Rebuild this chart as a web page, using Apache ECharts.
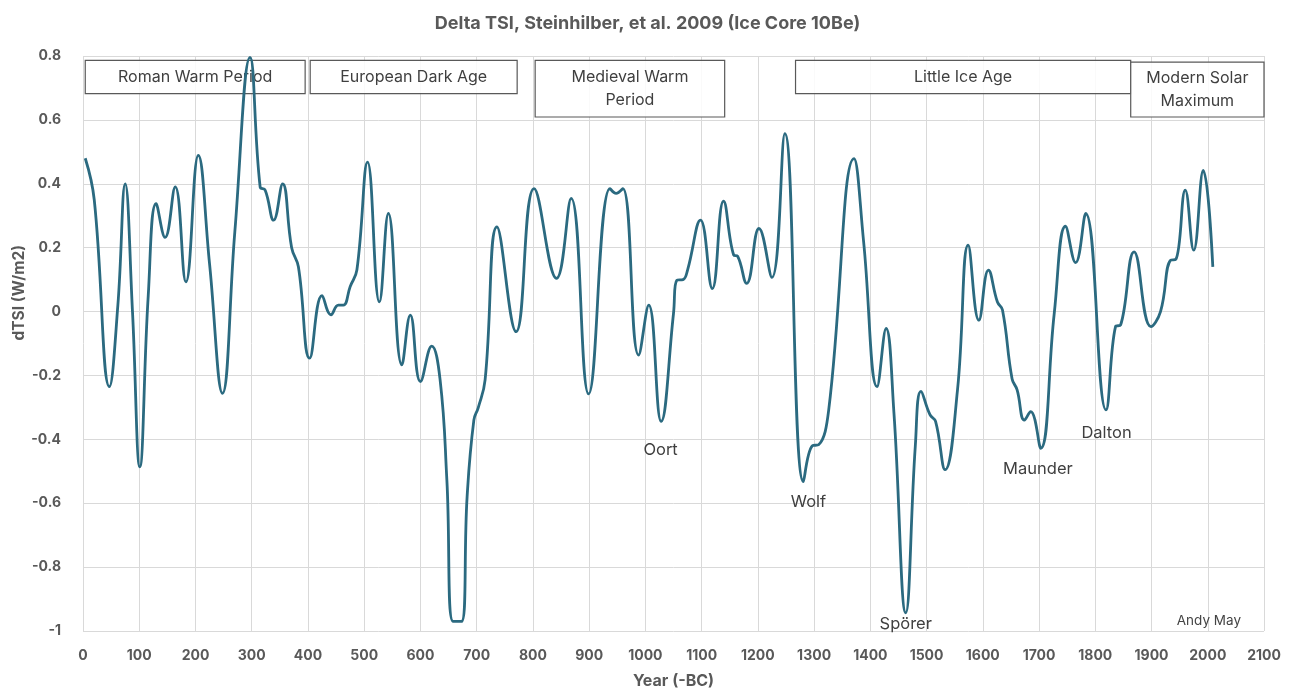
<!DOCTYPE html>
<html>
<head>
<meta charset="utf-8">
<script src="https://cdn.jsdelivr.net/npm/echarts@6/dist/echarts.min.js"></script>
<style>
html, body { margin: 0; padding: 0; background: #fff; }
#chart { width: 1295px; height: 689px; }
</style>
</head>
<body>
<div id="chart"></div>
<script>
// 年份与 dTSI 数值
var years = [4, 20, 47, 62, 75, 88, 101, 116, 130, 146, 164, 183, 205, 225, 248, 270, 297, 315, 324, 339, 355,
  371, 383, 403, 425, 441, 454, 463, 475, 487, 506, 527, 543, 567, 582, 600, 620, 635, 647, 658, 673, 683, 695,
  703, 715, 736, 770, 802, 842, 868, 899, 937, 948, 960, 988, 1006, 1028, 1050, 1056, 1067, 1075, 1098, 1119,
  1139, 1157, 1164, 1180, 1202, 1225, 1248, 1281, 1297, 1308, 1326, 1371, 1388, 1412, 1428, 1442, 1463, 1480,
  1490, 1506, 1516, 1533, 1555, 1574, 1593, 1610, 1626, 1635, 1652, 1661, 1674, 1685, 1703, 1727, 1747, 1765,
  1783, 1819, 1836, 1845, 1869, 1899, 1916, 1934, 1943, 1960, 1975, 1992, 2009];
var dtsi = [0.48, 0.35, -0.235, 0.02, 0.40, 0.0, -0.486, 0.05, 0.338, 0.232, 0.39, 0.093, 0.489, 0.15, -0.256,
  0.25, 0.796, 0.39, 0.38, 0.286, 0.40, 0.2, 0.14, -0.146, 0.05, -0.01, 0.02, 0.02, 0.078, 0.13, 0.468, 0.03,
  0.307, -0.167, -0.011, -0.219, -0.108, -0.214, -0.527, -0.97, -0.97, -0.58, -0.34, -0.30, -0.214, 0.265,
  -0.063, 0.385, 0.104, 0.354, -0.258, 0.385, 0.37, 0.385, -0.136, 0.02, -0.344, -0.006, 0.098, 0.10, 0.13,
  0.286, 0.072, 0.346, 0.177, 0.173, 0.088, 0.26, 0.107, 0.557, -0.532, -0.42, -0.417, -0.308, 0.479, 0.22,
  -0.235, -0.053, -0.318, -0.943, -0.42, -0.25, -0.323, -0.344, -0.495, -0.245, 0.208, -0.027, 0.13, 0.03,
  0.005, -0.21, -0.245, -0.34, -0.313, -0.428, -0.006, 0.267, 0.153, 0.307, -0.308, -0.047, -0.042, 0.187,
  -0.047, 0.0, 0.161, 0.163, 0.38, 0.192, 0.442, 0.14];

// 时期方框：[起始年, 结束年], [上沿值, 下沿值]
var periodNames = ['Roman Warm Period', 'European Dark Age', 'Medieval Warm\nPeriod', 'Little Ice Age', 'Modern Solar\nMaximum'];
var periodX = [[4, 395], [404, 772], [804, 1141], [1267, 1863], [1863, 2108]];
var periodY = [[0.786, 0.682], [0.786, 0.682], [0.786, 0.609], [0.786, 0.682], [0.781, 0.609]];

// 极小期标注
var minimaNames = ['Oort', 'Wolf', 'Spörer', 'Maunder', 'Dalton'];
var minimaPos = [[1027, -0.433], [1290, -0.595], [1463, -0.977], [1698, -0.492], [1820, -0.38]];

var xTicks = { min: 0, max: 2100, interval: 100 };
var yTicks = { min: -1, max: 0.8, interval: 0.2 };

var lineData = years.map(function (y, i) { return [y, dtsi[i]]; });

var areaData = periodNames.map(function (n, i) {
  return [
    { name: n, coord: [periodX[i][0], periodY[i][0]] },
    { coord: [periodX[i][1], periodY[i][1]] }
  ];
});

var pointData = minimaNames.map(function (n, i) {
  return { name: n, coord: minimaPos[i], value: n };
});
pointData.push({ name: 'Andy May', coord: [2002, -0.97], value: 'Andy May',
  label: { fontSize: 13.5, color: '#444' } });

var myChart = echarts.init(document.getElementById('chart'));
var txtColor = '#595959';
var fontFam = 'Inter, "Noto Sans", sans-serif';

myChart.setOption({
  animation: false,
  textStyle: { fontFamily: fontFam },
  title: {
    text: 'Delta TSI, Steinhilber, et al. 2009 (Ice Core 10Be)',
    left: 'center',
    top: 10,
    textStyle: { fontSize: 18, fontWeight: 'bold', color: txtColor, fontFamily: fontFam }
  },
  grid: { left: 83, right: 31, top: 56, bottom: 58, outerBoundsMode: 'none', containLabel: false },
  xAxis: {
    type: 'value',
    min: xTicks.min, max: xTicks.max, interval: xTicks.interval,
    name: 'Year (-BC)',
    nameLocation: 'middle',
    nameGap: 42,
    nameTextStyle: { fontSize: 16, fontWeight: 'bold', color: txtColor },
    axisLine: { show: false },
    axisTick: { show: false },
    axisLabel: {
      fontSize: 14, fontWeight: 'bold', color: txtColor, margin: 18,
      formatter: function (v) { return String(v); }
    },
    splitLine: { show: true, lineStyle: { color: '#d9d9d9', width: 1 } }
  },
  yAxis: {
    type: 'value',
    min: yTicks.min, max: yTicks.max, interval: yTicks.interval,
    axisLine: { show: false },
    axisTick: { show: false },
    axisLabel: {
      fontSize: 14, fontWeight: 'bold', color: txtColor, margin: 22,
      formatter: function (v) { return Math.round(v * 10) / 10 + ''; }
    },
    splitLine: { show: true, lineStyle: { color: '#d9d9d9', width: 1 } }
  },
  graphic: [{
    type: 'text',
    left: 11,
    top: 245,
    rotation: Math.PI / 2,
    style: {
      text: 'dTSI (W/m2)',
      fill: txtColor,
      font: 'bold 15.5px ' + fontFam
    }
  }],
  series: [{
    type: 'line',
    data: lineData,
    smooth: 0.45,
    symbol: 'none',
    clip: false,
    z: 3,
    lineStyle: { color: '#2b6a80', width: 2.8 },
    markArea: {
      silent: true,
      itemStyle: { color: 'rgba(255,255,255,0.85)', borderColor: '#595959', borderWidth: 1.2 },
      label: {
        position: 'inside',
        color: '#3f3f3f',
        fontSize: 16,
        lineHeight: 23,
        fontFamily: fontFam
      },
      data: areaData
    },
    markPoint: {
      silent: true,
      symbol: 'circle',
      symbolSize: 0,
      label: {
        show: true,
        position: 'inside',
        color: '#3f3f3f',
        fontSize: 16.5,
        fontFamily: fontFam,
        formatter: '{b}'
      },
      data: pointData
    }
  }]
});
</script>
</body>
</html>
